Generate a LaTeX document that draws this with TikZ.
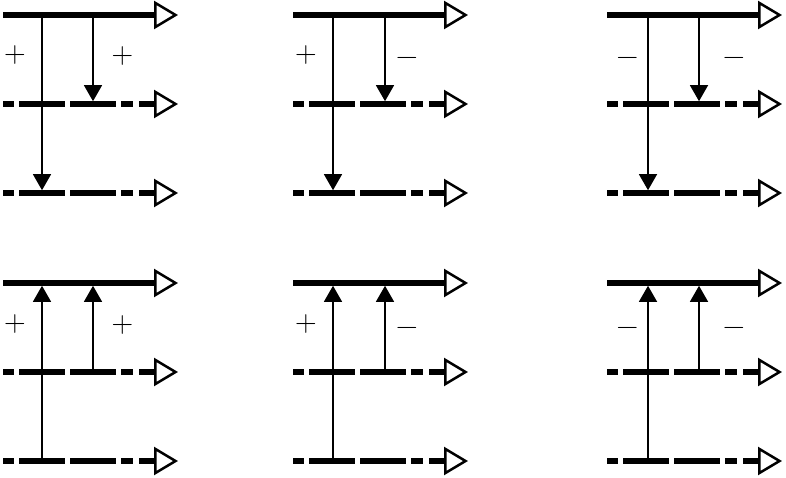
\documentclass[tikz,border=0pt]{standalone}
\usepackage{fontspec}
\usepackage{tikz}
\usetikzlibrary{arrows.meta,calc}

\begin{document}
\begin{tikzpicture}[x=1pt,y=-1pt,
    level/.style={line width=5.5pt,-{Triangle[open,length=24pt,width=28pt,line width=2.5pt]}},
    virtual/.style={level,dash pattern=on 11pt off 5pt on 46pt off 5pt on 46pt off 5pt on 12pt off 6pt on 40pt off 10pt},
    jump/.style={line width=1.3pt,-{Triangle[length=16pt,width=18pt]},shorten >=2.8pt},
    sign/.style={inner sep=0pt,anchor=base,yshift=-7.5pt,font=\fontsize{30}{30}\selectfont}]
  \useasboundingbox (0,0) rectangle (786,478);
  % six panels: name / start x / top y / arrow x (left, right)
  \foreach \n/\x/\y/\a/\b in {p1/3/15/42/93, p2/293/15/333/385, p3/607/15/648/699,
                              p4/3/283/42/93, p5/293/283/333/385, p6/607/283/648/699} {
    \coordinate (\n-1) at (\x,\y);       \coordinate (\n-1e) at (\x+175,\y);
    \coordinate (\n-2) at (\x,\y+89);    \coordinate (\n-2e) at (\x+175,\y+89);
    \coordinate (\n-3) at (\x,\y+178);   \coordinate (\n-3e) at (\x+175,\y+178);
    \coordinate (\n-1a) at (\a,\y);      \coordinate (\n-1b) at (\b,\y);
    \coordinate (\n-2b) at (\b,\y+89);   \coordinate (\n-3a) at (\a,\y+178);
    \draw[level] (\n-1) -- (\n-1e);
    \draw[virtual] (\n-2) -- (\n-2e);
    \draw[virtual] (\n-3) -- (\n-3e);
  }
  % emission (top row) and absorption (bottom row)
  \foreach \n in {p1,p2,p3} {
    \draw[jump] (\n-1a) -- (\n-3a);
    \draw[jump] (\n-1b) -- (\n-2b);
  }
  \foreach \n in {p4,p5,p6} {
    \draw[jump] (\n-3a) -- (\n-1a);
    \draw[jump] (\n-2b) -- (\n-1b);
  }
  % signs
  \node[sign] (s1a) at (15,55) {+};
  \node[sign] (s1b) at (122.5,56.5) {+};
  \node[sign] (s2a) at (306,55) {+};
  \node[sign] (s2b) at (407,58) {−};
  \node[sign] (s3a) at (627.5,58) {−};
  \node[sign] (s3b) at (734,58) {−};
  \node[sign] (s4a) at (15,324) {+};
  \node[sign] (s4b) at (122.5,325) {+};
  \node[sign] (s5a) at (306,324) {+};
  \node[sign] (s5b) at (407,328) {−};
  \node[sign] (s6a) at (627.5,328) {−};
  \node[sign] (s6b) at (734,328) {−};
\end{tikzpicture}
\end{document}
